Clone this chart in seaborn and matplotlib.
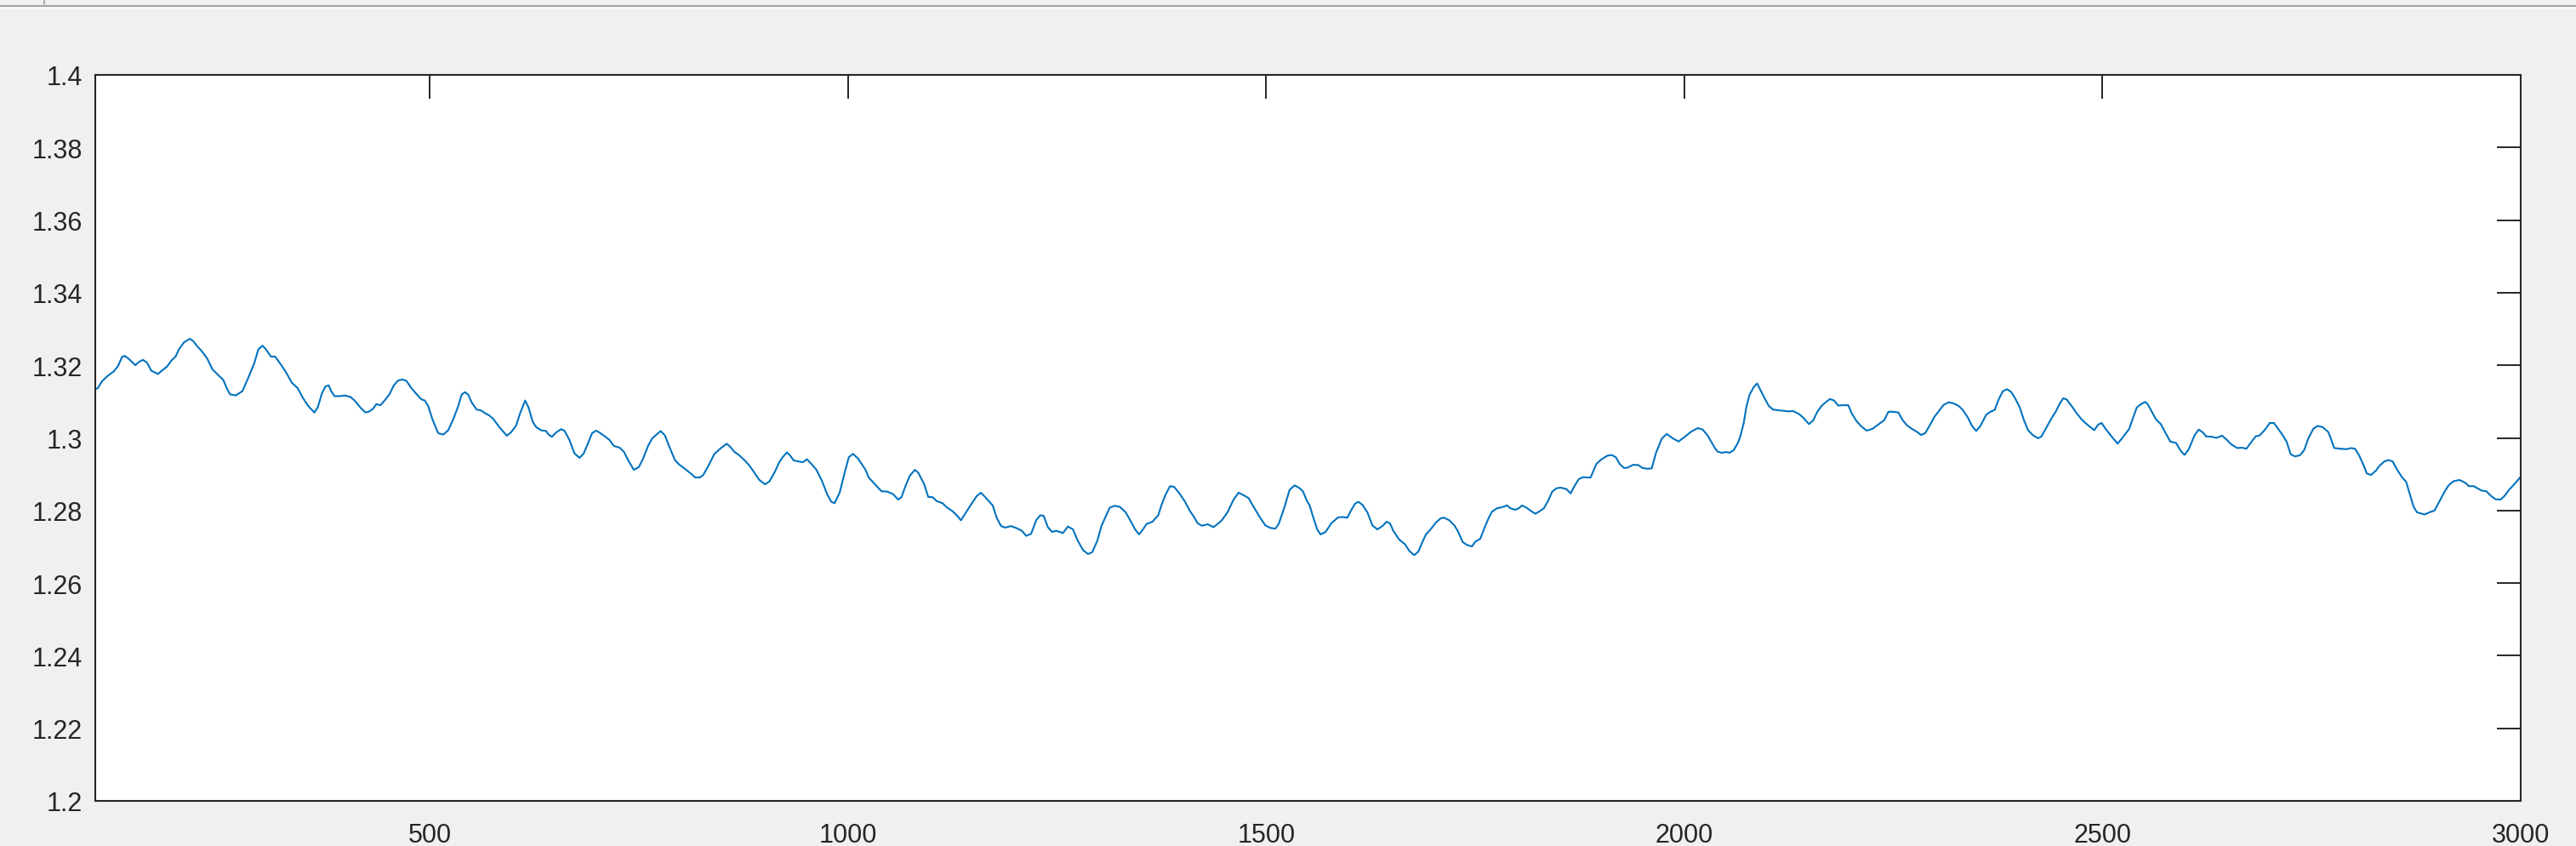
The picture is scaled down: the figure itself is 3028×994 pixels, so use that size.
import numpy as np
import pandas as pd
import matplotlib
matplotlib.use("Agg")
import matplotlib.pyplot as plt
import seaborn as sns
from matplotlib.lines import Line2D

# Signal, split into segments along the x axis
x_a = [100, 103, 108, 115, 122, 127, 132, 135, 140, 144, 148, 152, 157, 162, 167, 175, 179, 186, 191, 196,
       200, 206, 213, 217, 222, 227, 234, 240, 247, 253, 257, 261, 268, 276, 283, 290, 295, 300, 304, 310,
       315, 322, 328, 335, 342, 348, 354, 357, 362, 366, 371, 375, 379, 382, 386, 393, 398, 405, 410, 415,
       418, 423, 427, 432, 436, 441, 447, 452, 457, 462, 467, 472, 478, 484, 490, 494, 498, 503, 510, 516,
       522, 528, 534, 538, 542, 546, 550, 556, 561, 566, 571]
y_a = [1.3134, 1.3137, 1.3156, 1.3171, 1.3183, 1.3197, 1.3223, 1.3226, 1.3218, 1.3209,
       1.3200, 1.3209, 1.3215, 1.3207, 1.3185, 1.3176, 1.3184, 1.3197, 1.3213, 1.3224,
       1.3244, 1.3263, 1.3273, 1.3267, 1.3252, 1.3240, 1.3218, 1.3189, 1.3173, 1.3160,
       1.3138, 1.3120, 1.3117, 1.3129, 1.3166, 1.3205, 1.3244, 1.3254, 1.3244, 1.3224,
       1.3224, 1.3202, 1.3181, 1.3152, 1.3137, 1.3111, 1.3090, 1.3082, 1.3070, 1.3084,
       1.3123, 1.3141, 1.3145, 1.3129, 1.3115, 1.3115, 1.3117, 1.3113, 1.3103, 1.3089,
       1.3081, 1.3070, 1.3072, 1.3080, 1.3093, 1.3090, 1.3106, 1.3121, 1.3145, 1.3158,
       1.3161, 1.3157, 1.3137, 1.3121, 1.3106, 1.3103, 1.3088, 1.3052, 1.3013, 1.3009,
       1.3021, 1.3051, 1.3088, 1.3119, 1.3126, 1.3119, 1.3098, 1.3078, 1.3076, 1.3068, 1.3062]

x_b = [576, 583, 592, 597, 603, 608, 614, 618, 623, 627, 633, 639, 642, 646, 651, 657, 661, 667, 673, 679,
       684, 690, 694, 699, 704, 710, 715, 720, 727, 732, 738, 744, 750, 755, 761, 766, 770, 776, 781, 786,
       793, 798, 806, 813, 817, 823, 827, 834, 840, 847, 855, 859, 864, 870, 877, 883, 888, 894, 901, 906,
       912, 918, 922, 927, 931, 935, 941, 946, 951, 956, 962, 969, 975, 980, 984, 990, 996, 1001, 1006, 1012,
       1017, 1021, 1025, 1032, 1040, 1047, 1054, 1060]
y_b = [1.3052, 1.3030, 1.3006, 1.3015, 1.3033, 1.3068, 1.3103, 1.3084, 1.3045, 1.3030,
       1.3021, 1.3019, 1.3009, 1.3003, 1.3015, 1.3024, 1.3020, 1.2994, 1.2957, 1.2945,
       1.2957, 1.2990, 1.3013, 1.3020, 1.3013, 1.3003, 1.2994, 1.2978, 1.2973, 1.2962,
       1.2935, 1.2912, 1.2920, 1.2943, 1.2978, 1.2999, 1.3007, 1.3019, 1.3007, 1.2978,
       1.2939, 1.2927, 1.2913, 1.2900, 1.2891, 1.2891, 1.2898, 1.2927, 1.2955, 1.2970,
       1.2984, 1.2976, 1.2962, 1.2952, 1.2937, 1.2921, 1.2904, 1.2884, 1.2872, 1.2880,
       1.2904, 1.2934, 1.2947, 1.2960, 1.2951, 1.2938, 1.2935, 1.2933, 1.2941, 1.2929,
       1.2913, 1.2881, 1.2845, 1.2824, 1.2820, 1.2849, 1.2904, 1.2947, 1.2956, 1.2943,
       1.2926, 1.2912, 1.2890, 1.2873, 1.2853, 1.2852, 1.2845, 1.2830]

x_c = [1064, 1069, 1074, 1080, 1084, 1091, 1096, 1101, 1106, 1113, 1118, 1125, 1130, 1135, 1140, 1147,
       1154, 1159, 1164, 1173, 1178, 1183, 1188, 1195, 1201, 1208, 1213, 1219, 1225, 1230, 1234, 1239,
       1244, 1249, 1253, 1257, 1263, 1269, 1274, 1281, 1287, 1292, 1298, 1303, 1308, 1313, 1319, 1325,
       1332, 1337, 1343, 1348, 1353, 1357, 1364, 1371, 1375, 1380, 1385, 1390, 1396, 1403, 1409, 1413,
       1418, 1423, 1430, 1437, 1442, 1447, 1454, 1461, 1467, 1474, 1479, 1486, 1492, 1499, 1505, 1511,
       1515, 1522, 1528, 1534, 1539, 1544, 1548]
y_c = [1.2837, 1.2869, 1.2896, 1.2912, 1.2904, 1.2873, 1.2837, 1.2837, 1.2826, 1.2820,
       1.2809, 1.2798, 1.2787, 1.2773, 1.2791, 1.2816, 1.2840, 1.2849, 1.2837, 1.2814,
       1.2779, 1.2757, 1.2753, 1.2757, 1.2752, 1.2744, 1.2730, 1.2736, 1.2773, 1.2787,
       1.2785, 1.2754, 1.2741, 1.2744, 1.2741, 1.2738, 1.2756, 1.2748, 1.2720, 1.2691,
       1.2680, 1.2685, 1.2716, 1.2757, 1.2783, 1.2808, 1.2813, 1.2810, 1.2795, 1.2775,
       1.2749, 1.2734, 1.2749, 1.2763, 1.2769, 1.2787, 1.2816, 1.2845, 1.2867, 1.2865,
       1.2848, 1.2824, 1.2798, 1.2785, 1.2765, 1.2758, 1.2762, 1.2754, 1.2763, 1.2773,
       1.2796, 1.2830, 1.2849, 1.2841, 1.2834, 1.2806, 1.2783, 1.2759, 1.2752, 1.2750,
       1.2763, 1.2810, 1.2857, 1.2869, 1.2863, 1.2853, 1.2830]

x_d = [1552, 1556, 1561, 1565, 1571, 1578, 1586, 1592, 1597, 1601, 1606, 1610, 1615, 1621, 1627, 1633,
       1639, 1644, 1648, 1652, 1659, 1666, 1671, 1677, 1682, 1686, 1691, 1697, 1703, 1709, 1713, 1719,
       1725, 1729, 1735, 1740, 1746, 1750, 1756, 1761, 1766, 1770, 1776, 1782, 1788, 1792, 1798, 1802,
       1806, 1811, 1817, 1822, 1827, 1832, 1837, 1842, 1847, 1852, 1859, 1864, 1869, 1874, 1879, 1884,
       1888, 1891, 1895, 1901, 1908, 1913, 1918, 1923, 1928, 1932, 1939, 1945, 1950, 1956, 1961, 1966,
       1973, 1979, 1986, 1993, 2000, 2008, 2016, 2022, 2028, 2033, 2037]
y_d = [1.2814, 1.2783, 1.2748, 1.2734, 1.2741, 1.2765, 1.2781, 1.2782, 1.2780, 1.2798,
       1.2818, 1.2824, 1.2816, 1.2795, 1.2759, 1.2748, 1.2757, 1.2769, 1.2765, 1.2744,
       1.2720, 1.2707, 1.2689, 1.2677, 1.2687, 1.2709, 1.2734, 1.2749, 1.2767, 1.2779,
       1.2780, 1.2773, 1.2759, 1.2744, 1.2713, 1.2705, 1.2701, 1.2714, 1.2722, 1.2752,
       1.2779, 1.2797, 1.2806, 1.2809, 1.2814, 1.2806, 1.2802, 1.2806, 1.2814, 1.2808,
       1.2798, 1.2791, 1.2798, 1.2806, 1.2826, 1.2852, 1.2861, 1.2863, 1.2859, 1.2847,
       1.2869, 1.2887, 1.2892, 1.2891, 1.2891, 1.2908, 1.2929, 1.2941, 1.2951, 1.2953,
       1.2947, 1.2927, 1.2917, 1.2918, 1.2926, 1.2925, 1.2917, 1.2915, 1.2916, 1.2958,
       1.2998, 1.3011, 1.2999, 1.2990, 1.3002, 1.3017, 1.3027, 1.3023, 1.3006, 1.2986, 1.2970]

x_e = [2040, 2045, 2050, 2054, 2059, 2064, 2067, 2071, 2074, 2078, 2083, 2087, 2091, 2096, 2101, 2106,
       2113, 2120, 2125, 2130, 2137, 2142, 2149, 2154, 2159, 2164, 2169, 2174, 2179, 2184, 2189, 2196,
       2200, 2206, 2211, 2218, 2225, 2232, 2239, 2244, 2249, 2256, 2261, 2266, 2272, 2278, 2283, 2288,
       2294, 2299, 2305, 2310, 2316, 2322, 2328, 2333, 2339, 2344, 2349, 2354, 2361, 2366, 2371, 2376,
       2381, 2386, 2391, 2396, 2401, 2406, 2411, 2417, 2423, 2427, 2433, 2439, 2444, 2449, 2453, 2457,
       2463, 2469, 2475, 2481, 2486, 2490, 2495, 2499, 2503, 2508, 2513, 2518, 2523]
y_e = [1.2962, 1.2959, 1.2961, 1.2959, 1.2966, 1.2986, 1.3005, 1.3041, 1.3084, 1.3119,
       1.3140, 1.3150, 1.3132, 1.3109, 1.3088, 1.3078, 1.3076, 1.3074, 1.3073, 1.3074,
       1.3066, 1.3056, 1.3038, 1.3048, 1.3072, 1.3088, 1.3098, 1.3107, 1.3103, 1.3089,
       1.3090, 1.3090, 1.3068, 1.3046, 1.3033, 1.3020, 1.3025, 1.3037, 1.3049, 1.3072,
       1.3072, 1.3070, 1.3049, 1.3035, 1.3025, 1.3017, 1.3008, 1.3013, 1.3037, 1.3058,
       1.3076, 1.3091, 1.3098, 1.3095, 1.3088, 1.3077, 1.3056, 1.3033, 1.3019, 1.3033,
       1.3064, 1.3072, 1.3077, 1.3107, 1.3129, 1.3134, 1.3126, 1.3107, 1.3084, 1.3049,
       1.3021, 1.3007, 1.2999, 1.3004, 1.3029, 1.3054, 1.3072, 1.3095, 1.3109, 1.3106,
       1.3088, 1.3068, 1.3051, 1.3038, 1.3029, 1.3021, 1.3037, 1.3041, 1.3027, 1.3012,
       1.2998, 1.2984, 1.2998]

x_f = [2532, 2536, 2541, 2546, 2551, 2554, 2559, 2564, 2570, 2575, 2581, 2588, 2593, 2598, 2603, 2610,
       2615, 2620, 2624, 2631, 2636, 2643, 2649, 2654, 2661, 2667, 2672, 2677, 2683, 2688, 2694, 2700,
       2705, 2710, 2715, 2720, 2725, 2730, 2736, 2741, 2746, 2752, 2757, 2763, 2770, 2773, 2777, 2785,
       2792, 2797, 2802, 2807, 2813, 2816, 2821, 2827, 2831, 2837, 2842, 2847, 2852, 2858, 2863, 2868,
       2872, 2876, 2885, 2892, 2897, 2903, 2909, 2914, 2920, 2927, 2934, 2938, 2944, 2953, 2959, 2964,
       2970, 2976, 2981, 2986, 2993, 3000]
y_f = [1.3025, 1.3052, 1.3084, 1.3093, 1.3099, 1.3093, 1.3072, 1.3051, 1.3037, 1.3015,
       1.2990, 1.2986, 1.2966, 1.2953, 1.2968, 1.3007, 1.3023, 1.3015, 1.3004, 1.3003,
       1.3000, 1.3006, 1.2994, 1.2982, 1.2972, 1.2973, 1.2970, 1.2986, 1.3004, 1.3007,
       1.3022, 1.3041, 1.3041, 1.3025, 1.3009, 1.2990, 1.2955, 1.2949, 1.2952, 1.2966,
       1.2998, 1.3025, 1.3033, 1.3030, 1.3016, 1.2998, 1.2972, 1.2970, 1.2969, 1.2972,
       1.2970, 1.2951, 1.2920, 1.2902, 1.2898, 1.2910, 1.2923, 1.2935, 1.2939, 1.2935,
       1.2913, 1.2892, 1.2879, 1.2841, 1.2810, 1.2795, 1.2789, 1.2796, 1.2800, 1.2826,
       1.2852, 1.2870, 1.2881, 1.2884, 1.2876, 1.2867, 1.2867, 1.2855, 1.2853, 1.2841,
       1.2831, 1.2830, 1.2841, 1.2857, 1.2874, 1.2893]

x_ticks = [500, 1000, 1500, 2000, 2500, 3000]
y_ticks = [1.2, 1.22, 1.24, 1.26, 1.28, 1.3, 1.32, 1.34, 1.36, 1.38, 1.4]
y_tick_labels = ["1.2", "1.22", "1.24", "1.26", "1.28", "1.3", "1.32", "1.34", "1.36", "1.38", "1.4"]

segments = [(x_a, y_a), (x_b, y_b), (x_c, y_c), (x_d, y_d), (x_e, y_e), (x_f, y_f)]
for sx, sy in segments:
    if len(sx) != len(sy):
        raise ValueError(f"segment length mismatch: {len(sx)} vs {len(sy)} starting at {sx[0]}")

df = pd.DataFrame({
    "x": np.concatenate([s[0] for s in segments]),
    "y": np.concatenate([s[1] for s in segments]),
})

sns.set_style("white")
plt.rcParams["font.family"] = ["Liberation Sans", "DejaVu Sans"]

W, H = 3028, 995
fig = plt.figure(figsize=(W / 100, H / 100), dpi=100, facecolor="#F0F0F0")
ax = fig.add_axes([112 / W, 1 - 942 / H, (2963 - 112) / W, (942 - 89) / H])
ax.set_facecolor("white")

sns.lineplot(data=df, x="x", y="y", ax=ax, color="#0072BD", linewidth=1.5,
             estimator=None, sort=False)

ax.set_xlim(100, 3000)
ax.set_ylim(1.2, 1.4)
ax.set_xticks(x_ticks)
ax.set_xticklabels([str(t) for t in x_ticks])
ax.set_yticks(y_ticks)
ax.set_yticklabels(y_tick_labels)
ax.set_xlabel("")
ax.set_ylabel("")

dark = "#262626"
for side in ["left", "right", "top", "bottom"]:
    ax.spines[side].set_visible(True)
    ax.spines[side].set_color(dark)
    ax.spines[side].set_linewidth(1.5)

ax.tick_params(axis="both", direction="in", length=20.5, width=1.4, color=dark,
               labelcolor=dark, labelsize=22, top=True, right=True)
ax.tick_params(axis="y", pad=11)
ax.tick_params(axis="x", pad=18)

# thin window separator strip along the top edge
fig.add_artist(Line2D([0, 1], [1 - 8.3 / H] * 2, color="#A0A0A0", linewidth=1.4,
                      transform=fig.transFigure))
fig.add_artist(Line2D([0, 1], [1 - 9.8 / H] * 2, color="white", linewidth=0.9,
                      transform=fig.transFigure))
fig.add_artist(Line2D([51.5 / W] * 2, [1, 1 - 6 / H], color="#A0A0A0", linewidth=1.2,
                      transform=fig.transFigure))

fig.savefig("out.png", dpi=100, facecolor=fig.get_facecolor())
